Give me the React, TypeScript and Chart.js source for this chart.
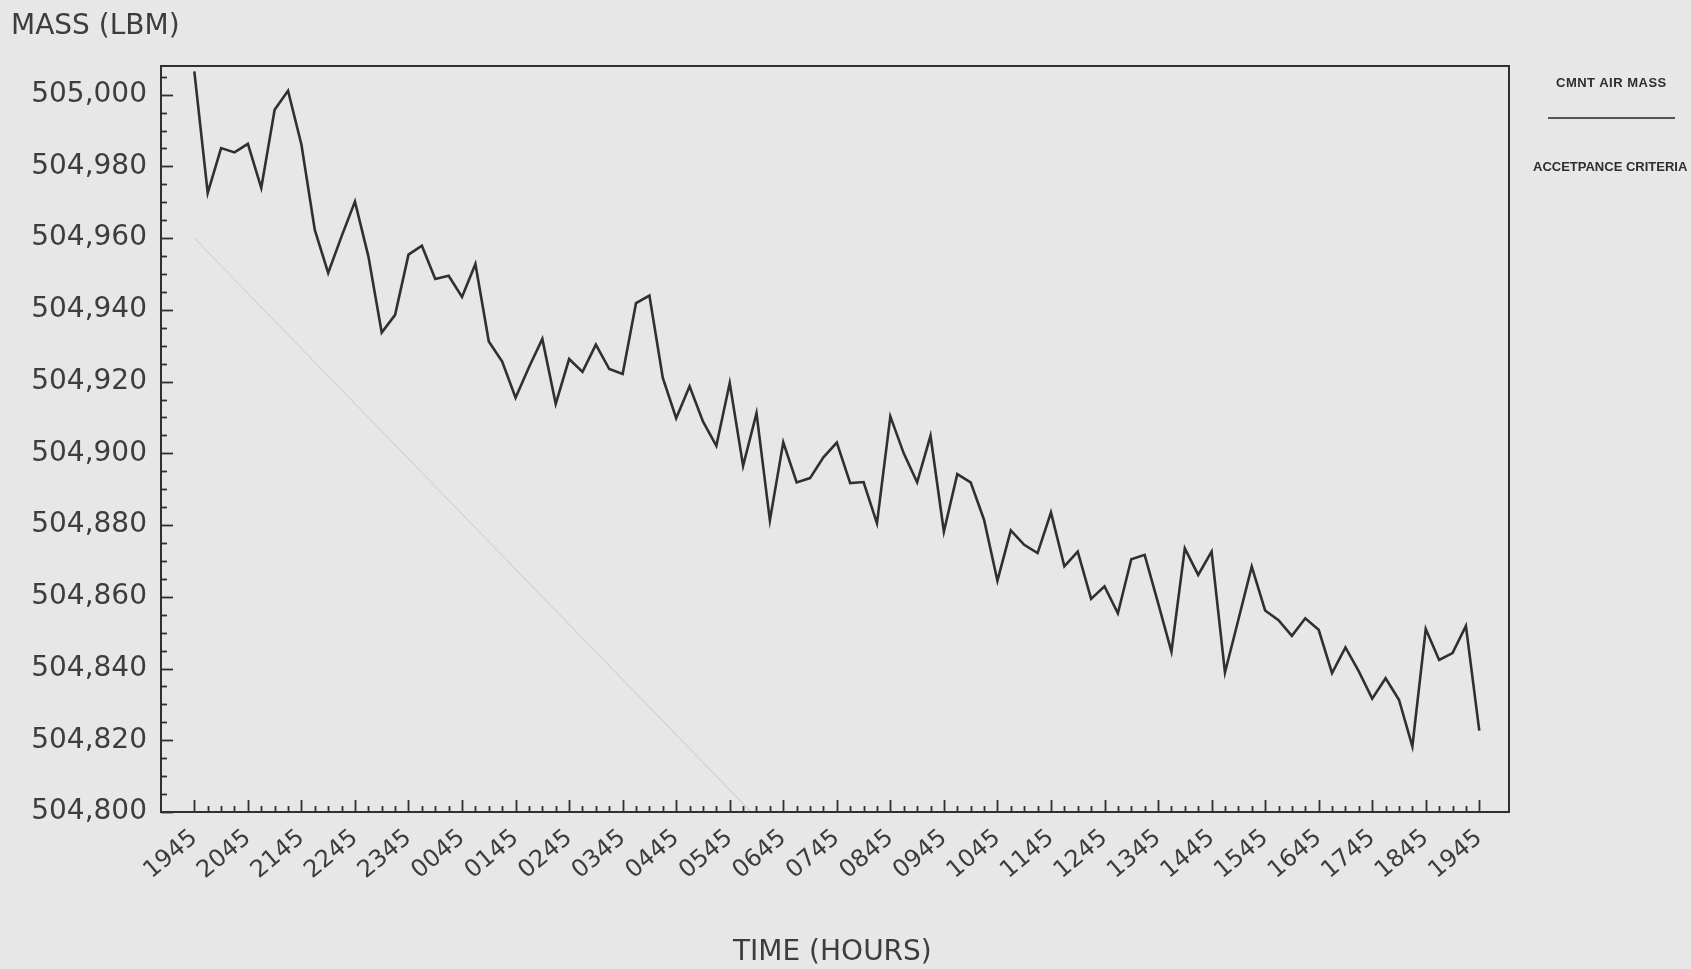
import { useEffect, useRef } from 'react';
import { Chart, registerables } from 'chart.js';

Chart.register(...registerables);

// Hour labels (every 4th 15-minute sample)
const TIME_LABELS = [
  '1945', '2045', '2145', '2245', '2345', '0045', '0145', '0245', '0345', '0445',
  '0545', '0645', '0745', '0845', '0945', '1045', '1145', '1245', '1345', '1445',
  '1545', '1645', '1745', '1845', '1945',
];

// Containment air mass, one sample every 15 minutes (lbm)
const MASS_LBM = [
  505006.5, 504972.6, 504985.1, 504983.9, 504986.3, 504974.0, 504995.8, 505001.1,
  504986.1, 504962.3, 504950.3, 504960.5, 504970.2, 504955.0, 504933.7, 504938.6,
  504955.4, 504957.9, 504948.6, 504949.5, 504943.6, 504952.8, 504931.2, 504925.6,
  504915.5, 504924.0, 504931.9, 504913.8, 504926.3, 504922.7, 504930.3, 504923.5,
  504922.1, 504941.9, 504944.0, 504921.0, 504909.8, 504918.7, 504908.9, 504902.1,
  504919.6, 504896.5, 504911.2, 504881.3, 504903.1, 504891.9, 504893.1, 504898.9,
  504903.0, 504891.7, 504892.0, 504880.5, 504910.3, 504900.0, 504891.9, 504904.9,
  504878.2, 504894.2, 504891.9, 504881.5, 504864.5, 504878.5, 504874.5, 504872.2,
  504883.5, 504868.5, 504872.6, 504859.4, 504862.9, 504855.4, 504870.5, 504871.7,
  504858.3, 504844.7, 504873.5, 504866.1, 504872.6, 504838.9, 504853.6, 504868.4,
  504856.2, 504853.5, 504849.1, 504854.0, 504850.8, 504838.7, 504845.9, 504839.2,
  504831.6, 504837.3, 504831.3, 504818.3, 504851.0, 504842.4, 504844.3, 504851.9,
  504822.7,
];

// Acceptance criteria line (faint)
const CRITERIA_X = [0, 41.6];
const CRITERIA_Y = [504960, 504800];

// Y tick labels
const Y_TICKS = [504800, 504820, 504840, 504860, 504880, 504900, 504920, 504940, 504960, 504980, 505000];
const Y_MINOR_STEP = 5;
const X_LABEL_EVERY = 4;

const Y_MIN = 504800;
const Y_MAX = 505008;
const X_MIN = -2.49;
const X_MAX = 98.22;

const W = 1691;
const H = 969;
const TEXT = '#3d3d3d';
const INK = '#303030';

const insideTicks = {
  id: 'insideTicks',
  afterDatasetsDraw(chart: any) {
    const { ctx, chartArea: a, scales } = chart;
    const x = scales.x;
    const y = scales.y;
    ctx.save();
    ctx.strokeStyle = INK;
    ctx.lineWidth = 2;
    ctx.strokeRect(a.left, a.top, a.right - a.left, a.bottom - a.top);
    ctx.lineWidth = 1.8;
    for (let i = 0; i < MASS_LBM.length; i++) {
      const px = Math.round(x.getPixelForValue(i)) + 0.5;
      const len = i % X_LABEL_EVERY === 0 ? 12 : 6;
      ctx.beginPath();
      ctx.moveTo(px, a.bottom);
      ctx.lineTo(px, a.bottom - len);
      ctx.stroke();
    }
    for (let v = Y_MIN; v <= Y_MAX; v += Y_MINOR_STEP) {
      const py = Math.round(y.getPixelForValue(v)) + 0.5;
      const len = (v - Y_MIN) % 20 === 0 ? 12 : 6;
      ctx.beginPath();
      ctx.moveTo(a.left, py);
      ctx.lineTo(a.left + len, py);
      ctx.stroke();
    }
    ctx.restore();
  },
};

export default function App() {
  const ref = useRef<HTMLCanvasElement | null>(null);

  useEffect(() => {
    if (!ref.current) return;
    const chart = new Chart(ref.current, {
      type: 'line',
      data: {
        datasets: [
          {
            label: 'CMNT AIR MASS',
            data: MASS_LBM.map((v, i) => ({ x: i, y: v })),
            borderColor: INK,
            borderWidth: 2.6,
            pointRadius: 0,
            tension: 0,
            fill: false,
            order: 1,
          },
          {
            label: 'ACCETPANCE CRITERIA',
            data: CRITERIA_X.map((xv, i) => ({ x: xv, y: CRITERIA_Y[i] })),
            borderColor: '#d4d4d4',
            borderWidth: 1.3,
            pointRadius: 0,
            tension: 0,
            fill: false,
            order: 2,
          },
        ],
      },
      options: {
        responsive: false,
        animation: false,
        layout: { padding: { top: 66, right: 182, left: 0, bottom: 0 } },
        plugins: {
          legend: { display: false },
          tooltip: { enabled: false },
        },
        scales: {
          x: {
            type: 'linear',
            min: X_MIN,
            max: X_MAX,
            grid: { display: false, drawTicks: false },
            border: { display: false },
            afterBuildTicks: (s: any) => {
              s.ticks = TIME_LABELS.map((_, k) => ({ value: k * X_LABEL_EVERY }));
            },
            afterFit: (s: any) => {
              s.height = H - 812;
            },
            ticks: {
              autoSkip: false,
              minRotation: 40,
              maxRotation: 40,
              padding: 12,
              color: TEXT,
              font: { family: 'DejaVu Sans', size: 24 },
              callback: (value: any) => TIME_LABELS[Math.round(Number(value) / X_LABEL_EVERY)] ?? '',
            },
          },
          y: {
            type: 'linear',
            min: Y_MIN,
            max: Y_MAX,
            grid: { display: false, drawTicks: false },
            border: { display: false },
            afterBuildTicks: (s: any) => {
              s.ticks = Y_TICKS.map((v) => ({ value: v }));
            },
            afterFit: (s: any) => {
              s.width = 161;
            },
            ticks: {
              padding: 14,
              color: TEXT,
              font: { family: 'DejaVu Sans', size: 28 },
              callback: (value: any) => Number(value).toLocaleString('en-US'),
            },
          },
        },
      },
      plugins: [insideTicks],
    });
    return () => chart.destroy();
  }, []);

  const abs = (s: any) => ({ position: 'absolute', whiteSpace: 'nowrap', margin: 0, ...s });

  return (
    <div
      style={{
        position: 'fixed',
        left: 0,
        top: 0,
        width: W,
        height: H,
        overflow: 'hidden',
        background: '#e7e7e7',
      }}
    >
      <canvas ref={ref} width={W} height={H} style={{ display: 'block', position: 'absolute', left: 0, top: 0 }} />
      <div style={abs({ left: 11, top: 11, font: '28px "DejaVu Sans"', lineHeight: '28px', color: TEXT })}>MASS (LBM)</div>
      <div style={abs({ left: 733, top: 937, font: '28px "DejaVu Sans"', lineHeight: '28px', color: TEXT })}>TIME (HOURS)</div>
      <div style={abs({ left: 1556, top: 76, font: 'bold 13px "Liberation Sans"', lineHeight: '13px', letterSpacing: '0.5px', color: '#2e2e2e' })}>CMNT AIR MASS</div>
      <div style={abs({ left: 1548, top: 117, width: 127, height: 1.5, background: '#555' })} />
      <div style={abs({ left: 1533, top: 160, font: 'bold 13px "Liberation Sans"', lineHeight: '13px', color: '#2e2e2e' })}>ACCETPANCE CRITERIA</div>
    </div>
  );
}
